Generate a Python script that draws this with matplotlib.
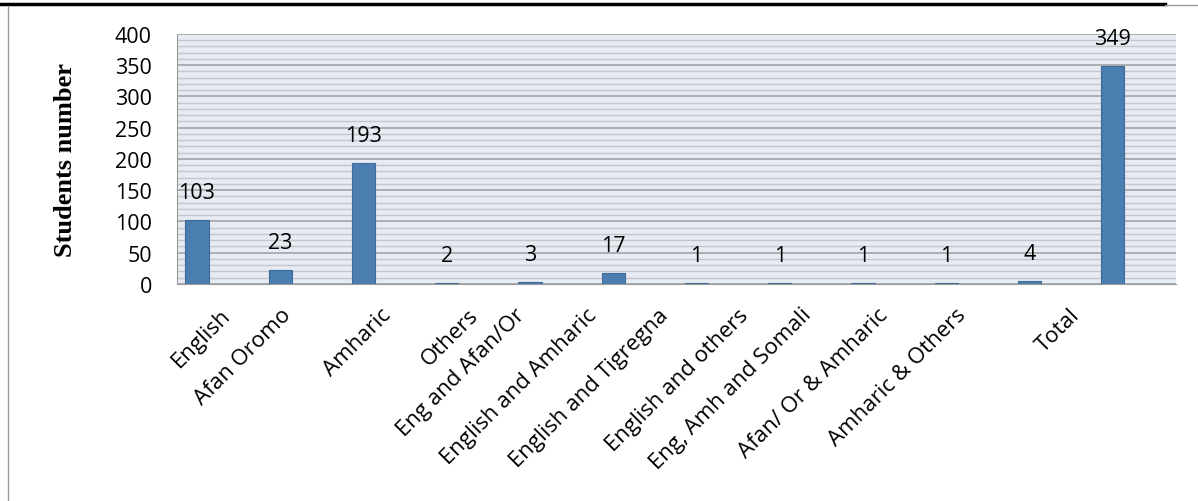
import numpy as np
import matplotlib.pyplot as plt
from matplotlib.lines import Line2D
from matplotlib.ticker import MultipleLocator

# --- data
languages = ["English", "Afan Oromo", "Amharic", "Others", "Eng and Afan/Or",
             "English and Amharic", "English and Tigregna", "English and others",
             "Eng, Amh and Somali", "Afan/ Or & Amharic", "Amharic & Others", "Total"]
students = [103, 23, 193, 2, 3, 17, 1, 1, 1, 1, 4, 349]

# where each rotated category label ends, relative to its category slot
label_shift = [0.10, -0.17, 0.03, 0.08, -0.36, -0.50, -0.64, -0.68, -0.92, -1.00, -1.06, -0.70]

plt.rcParams['font.family'] = ['Open Sans', 'DejaVu Sans']

fig = plt.figure(figsize=(11.98, 5.02), dpi=100)
ax = fig.add_axes([0.1477, 0.4323, 0.8339, 0.498])

x = np.arange(len(languages))
bar_pos = x - 0.26

ax.bar(bar_pos, students, width=0.28, color="#4a7eb1", edgecolor="#3d6b98",
       linewidth=0.8, zorder=3)

# --- data labels
for xp, v in zip(bar_pos, students):
    ax.annotate(str(v), (xp, v), xytext=(0, 17), textcoords="offset pixels",
                ha="center", va="bottom", fontsize=15.5, color="black")

# --- axes
ax.set_xlim(-0.5, len(languages) - 0.5)
ax.set_ylim(0, 400)
ax.set_facecolor("#e7ebf4")
ax.yaxis.set_major_locator(MultipleLocator(50))
ax.yaxis.set_minor_locator(MultipleLocator(10))
ax.grid(True, which="minor", axis="y", color="#c4c6ca", linewidth=1.0, zorder=1)
ax.grid(True, which="major", axis="y", color="#a2a4a8", linewidth=1.2, zorder=2)
ax.set_axisbelow(True)

for side in ["top", "right"]:
    ax.spines[side].set_visible(False)
ax.spines["left"].set_color("#9a9a9a")
ax.spines["bottom"].set_color("#9a9a9a")
ax.spines["left"].set_zorder(4)
ax.spines["bottom"].set_zorder(4)

ax.tick_params(axis="y", which="both", length=0, pad=18, labelsize=15.5)
ax.tick_params(axis="x", which="both", length=0)
ax.set_xticks([])

# --- rotated category labels
for xi, name, sh in zip(x, languages, label_shift):
    ax.annotate(name, (xi + sh, 0), xycoords=("data", "axes fraction"),
                xytext=(-7, -20), textcoords="offset pixels",
                ha="right", va="top", rotation=45, rotation_mode="anchor",
                fontsize=16)

ax.set_ylabel("Students number", fontsize=19, fontweight="bold",
              family="Liberation Serif", labelpad=27)

# --- page borders around the chart
fig.add_artist(Line2D([0, 1165 / 1198], [1 - 5 / 502, 1 - 5 / 502],
                      transform=fig.transFigure, color="black", linewidth=2.5))
fig.add_artist(Line2D([1165 / 1198, 1], [1 - 6 / 502, 1 - 6 / 502],
                      transform=fig.transFigure, color="#999999", linewidth=1))
fig.add_artist(Line2D([8 / 1198, 8 / 1198], [0, 1 - 7 / 502],
                      transform=fig.transFigure, color="#999999", linewidth=1))

fig.savefig("out.png", dpi=100)
